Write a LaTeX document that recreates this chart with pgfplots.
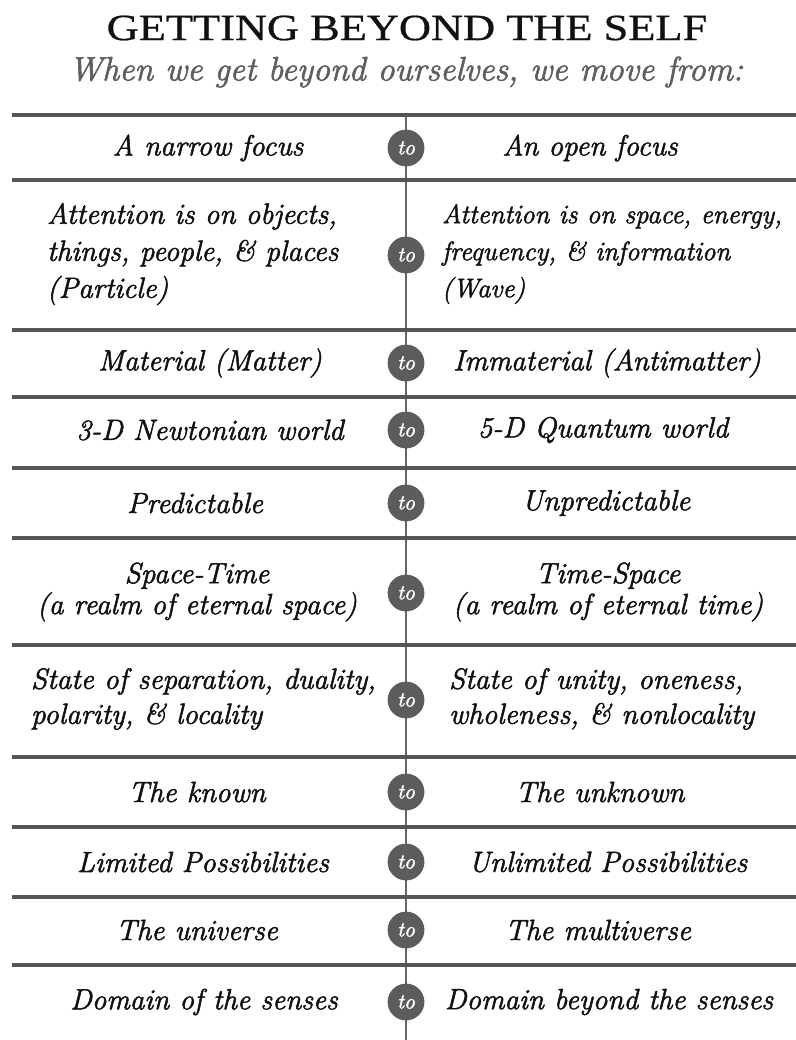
\documentclass[border=0pt]{standalone}
\usepackage{fontspec}
\usepackage{graphicx}
\usepackage{pgfplots}
\pgfplotsset{compat=1.18}
\newfontfamily\titlefam{Liberation Serif}[FakeBold=0.6]
\newfontfamily\rowfam{Latin Modern Roman}[FakeBold=1.8]
\definecolor{linegray}{HTML}{555555}
\definecolor{vgray}{HTML}{666666}
\definecolor{circgray}{HTML}{5C5C5C}
\definecolor{subgray}{HTML}{5E5E5E}
\definecolor{textblack}{HTML}{111111}
\newcommand{\rowfont}{\rowfam\fontsize{14.6}{18.5}\selectfont\itshape}
\begin{document}
\begin{tikzpicture}
\begin{axis}[width=398pt,height=520pt,scale only axis,
  xmin=0,xmax=796,ymin=0,ymax=1040,y dir=reverse,hide axis,clip=false]
% background
\addplot[draw=none,fill=white] coordinates {(0,0) (796,0) (796,1040) (0,1040) (0,0)};
% vertical divider
\addplot[vgray,line width=1.4pt] coordinates {(406,115) (406,1040)};
% horizontal rules
\addplot[linegray,line width=2pt] coordinates {(12,115) (796,115)};
\addplot[linegray,line width=2pt] coordinates {(12,180) (796,180)};
\addplot[linegray,line width=2pt] coordinates {(12,330) (796,330)};
\addplot[linegray,line width=2pt] coordinates {(12,397) (796,397)};
\addplot[linegray,line width=2pt] coordinates {(12,468) (796,468)};
\addplot[linegray,line width=2pt] coordinates {(12,538) (796,538)};
\addplot[linegray,line width=2pt] coordinates {(12,645) (796,645)};
\addplot[linegray,line width=2pt] coordinates {(12,757) (796,757)};
\addplot[linegray,line width=2pt] coordinates {(12,827) (796,827)};
\addplot[linegray,line width=2pt] coordinates {(12,897) (796,897)};
\addplot[linegray,line width=2pt] coordinates {(12,965) (796,965)};
% "to" circles
\addplot[circgray,only marks,mark=*,mark size=9pt,mark options={fill=circgray,draw=circgray},
  nodes near coords={to},
  every node near coord/.style={anchor=center,text=white,font=\rowfam\fontsize{10.5}{11}\selectfont\itshape}]
  coordinates {(406,148) (406,255) (406,363) (406,430) (406,503) (406,593) (406,700) (406,792) (406,862) (406,930) (406,1002)};
% title
\node[text=textblack] at (axis cs:407,28) {\scalebox{1.2}[1]{\titlefam\fontsize{18.5}{19}\selectfont GETTING BEYOND THE SELF}};
\node[text=subgray] at (axis cs:406,72) {\rowfam\fontsize{17}{18}\selectfont\itshape When we get beyond ourselves, we move from:};
% rows
\begin{scope}[every node/.append style={text=textblack,font=\rowfont}]
\node at (axis cs:208,148) {A narrow focus};
\node at (axis cs:590,148) {An open focus};
\node[anchor=west,align=left] at (axis cs:40,254) {Attention is on objects,\\ things, people, \& places\\ (Particle)};
\node[anchor=west,align=left,font=\rowfam\fontsize{13.4}{18.5}\selectfont\itshape] at (axis cs:435,254) {Attention is on space, energy,\\ frequency, \& information\\ (Wave)};
\node at (axis cs:210,363) {Material (Matter)};
\node at (axis cs:607,363) {Immaterial (Antimatter)};
\node at (axis cs:210,430) {3-D Newtonian world};
\node at (axis cs:603,430) {5-D Quantum world};
\node at (axis cs:195,503) {Predictable};
\node at (axis cs:606,503) {Unpredictable};
\node[align=center,font=\rowfam\fontsize{14.6}{15.5}\selectfont\itshape] at (axis cs:197,592) {Space-Time\\ (a realm of eternal space)};
\node[align=center,font=\rowfam\fontsize{14.6}{15.5}\selectfont\itshape] at (axis cs:608,592) {Time-Space\\ (a realm of eternal time)};
\node[anchor=west,align=left,font=\rowfam\fontsize{14.6}{17.5}\selectfont\itshape] at (axis cs:24,699) {State of separation, duality,\\ polarity, \& locality};
\node[anchor=west,align=left,font=\rowfam\fontsize{14.6}{17.5}\selectfont\itshape] at (axis cs:442,699) {State of unity, oneness,\\ wholeness, \& nonlocality};
\node at (axis cs:197,792) {The known};
\node at (axis cs:600,792) {The unknown};
\node at (axis cs:203,862) {Limited Possibilities};
\node at (axis cs:608,862) {Unlimited Possibilities};
\node at (axis cs:197,930) {The universe};
\node at (axis cs:598,930) {The multiverse};
\node at (axis cs:204,1002) {Domain of the senses};
\node at (axis cs:609,1002) {Domain beyond the senses};
\end{scope}
\end{axis}
\pgfresetboundingbox
\path (current axis.south west) rectangle (current axis.north east);
\end{tikzpicture}
\end{document}
